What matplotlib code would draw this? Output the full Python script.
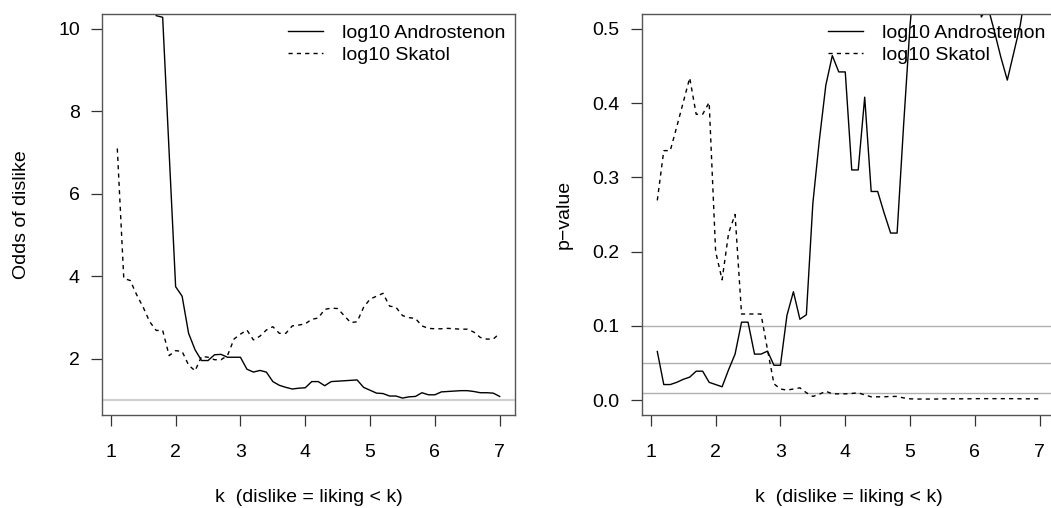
import matplotlib
matplotlib.use("Agg")
import matplotlib.pyplot as plt

plt.rcParams['font.family'] = ['Liberation Sans', 'DejaVu Sans']
plt.rcParams['font.size'] = 14

# k thresholds
k = [1.1, 1.2, 1.3, 1.4, 1.5, 1.6, 1.7, 1.8, 1.9, 2.0,
     2.1, 2.2, 2.3, 2.4, 2.5, 2.6, 2.7, 2.8, 2.9, 3.0,
     3.1, 3.2, 3.3, 3.4, 3.5, 3.6, 3.7, 3.8, 3.9, 4.0,
     4.1, 4.2, 4.3, 4.4, 4.5, 4.6, 4.7, 4.8, 4.9, 5.0,
     5.1, 5.2, 5.3, 5.4, 5.5, 5.6, 5.7, 5.8, 5.9, 6.0,
     6.1, 6.2, 6.3, 6.4, 6.5, 6.6, 6.7, 6.8, 6.9, 7.0]

# odds of dislike
odds_andro = [60, 45, 40, 35, 25, 18, 10.32, 10.28, 7.0, 3.75,
              3.52, 2.62, 2.22, 1.96, 1.96, 2.10, 2.11, 2.04, 2.04, 2.04,
              1.75, 1.68, 1.72, 1.68, 1.45, 1.36, 1.31, 1.27, 1.29, 1.30,
              1.45, 1.45, 1.35, 1.45, 1.46, 1.47, 1.48, 1.49, 1.31, 1.24,
              1.17, 1.16, 1.10, 1.10, 1.05, 1.08, 1.09, 1.18, 1.13, 1.13,
              1.20, 1.21, 1.22, 1.23, 1.23, 1.21, 1.18, 1.18, 1.17, 1.09]
odds_skatol = [7.10, 3.95, 3.90, 3.55, 3.25, 2.90, 2.69, 2.69, 2.08, 2.20,
               2.18, 1.85, 1.71, 2.06, 2.04, 1.98, 1.98, 2.08, 2.48, 2.60,
               2.70, 2.46, 2.55, 2.70, 2.78, 2.62, 2.62, 2.80, 2.82, 2.85,
               2.96, 2.99, 3.20, 3.23, 3.22, 3.05, 2.88, 2.90, 3.25, 3.45,
               3.52, 3.59, 3.28, 3.25, 3.05, 3.00, 2.98, 2.80, 2.74, 2.73,
               2.73, 2.74, 2.73, 2.72, 2.72, 2.65, 2.52, 2.48, 2.48, 2.62]

# p-values
p_andro = [0.0655, 0.021, 0.021, 0.024, 0.028, 0.031, 0.039, 0.039, 0.024, 0.021,
           0.018, 0.041, 0.062, 0.105, 0.105, 0.062, 0.062, 0.066, 0.047, 0.047,
           0.114, 0.146, 0.109, 0.115, 0.265, 0.350, 0.424, 0.464, 0.442, 0.442,
           0.310, 0.310, 0.408, 0.281, 0.281, 0.252, 0.225, 0.225, 0.370, 0.505,
           0.60, 0.62, 0.65, 0.60, 0.58, 0.62, 0.60, 0.57, 0.60, 0.58,
           0.516, 0.53, 0.497, 0.462, 0.431, 0.468, 0.505, 0.56, 0.60, 0.62]
p_skatol = [0.269, 0.336, 0.336, 0.368, 0.401, 0.434, 0.385, 0.385, 0.401, 0.200,
            0.162, 0.225, 0.250, 0.116, 0.116, 0.116, 0.116, 0.068, 0.022, 0.015,
            0.0135, 0.015, 0.0166, 0.010, 0.005, 0.008, 0.012, 0.0085, 0.0085, 0.0085,
            0.009, 0.0099, 0.007, 0.0045, 0.0045, 0.0045, 0.005, 0.005, 0.003, 0.0018,
            0.0015, 0.0015, 0.0015, 0.0015, 0.0018, 0.0018, 0.0018, 0.0018, 0.0018, 0.002,
            0.002, 0.002, 0.002, 0.002, 0.002, 0.002, 0.0018, 0.0018, 0.0018, 0.0018]

labels = ["log10 Androstenon", "log10 Skatol"]
xlab = "k  (dislike = liking < k)"

fig = plt.figure(figsize=(10.51, 5.08), dpi=100)
ax1 = fig.add_axes([102 / 1051, 1 - 415 / 508, 413 / 1051, 401 / 508])
ax2 = fig.add_axes([642 / 1051, 1 - 415 / 508, 413 / 1051, 401 / 508])


def style(ax):
    for s in ax.spines.values():
        s.set_color('#555555')
        s.set_linewidth(1.0)
    ax.set_xlim(0.864, 7.236)
    ax.set_xticks([1, 2, 3, 4, 5, 6, 7])
    ax.tick_params(axis='x', length=8, width=0.9, color='#333333', pad=13)
    ax.tick_params(axis='y', length=8, width=0.9, color='#333333', pad=8)
    ax.set_xlabel(xlab, labelpad=20)


# Odds panel
ax1.axhline(1, color='#d0d0d0', lw=1.5, zorder=1)
ax1.plot(k, odds_andro, color='black', lw=1, label=labels[0])
ax1.plot(k, odds_skatol, color='black', lw=1, dashes=(3, 3), label=labels[1])
ax1.set_ylim(0.64, 10.36)
ax1.set_yticks([2, 4, 6, 8, 10])
style(ax1)
ax1.set_ylabel("Odds of dislike", labelpad=20)
ax1.legend(loc='upper left', bbox_to_anchor=(0.45, 0.975), frameon=False,
           borderpad=0, borderaxespad=0, handlelength=1.8, handletextpad=1.0,
           labelspacing=0.25, fontsize=14)

# p-value panel
for h in [0.1, 0.05, 0.01]:
    ax2.axhline(h, color='#b0b0b0', lw=1, zorder=1)
ax2.plot(k, p_andro, color='black', lw=1, label=labels[0])
ax2.plot(k, p_skatol, color='black', lw=1, dashes=(3, 3), label=labels[1])
ax2.set_ylim(-0.02, 0.52)
ax2.set_yticks([0.0, 0.1, 0.2, 0.3, 0.4, 0.5])
ax2.set_yticklabels(["0.0", "0.1", "0.2", "0.3", "0.4", "0.5"])
style(ax2)
ax2.set_ylabel("p\u2212value", labelpad=14)
ax2.legend(loc='upper left', bbox_to_anchor=(0.45, 0.975), frameon=False,
           borderpad=0, borderaxespad=0, handlelength=1.8, handletextpad=1.0,
           labelspacing=0.25, fontsize=14)

fig.savefig("out.png", dpi=100)
